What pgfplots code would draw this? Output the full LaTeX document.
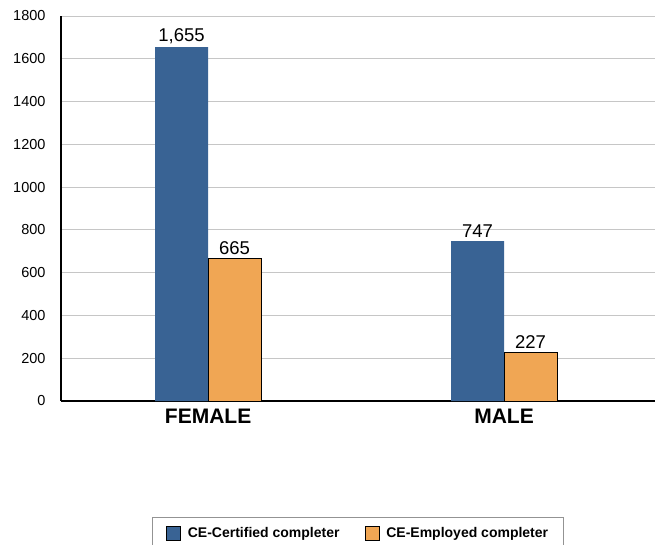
\documentclass[border=0pt]{standalone}
\usepackage{fontspec}
\setmainfont{Liberation Sans}
\usepackage{pgfplots}
\pgfplotsset{compat=1.18}
\usetikzlibrary{calc}
\definecolor{ceblue}{RGB}{57,99,148}
\definecolor{ceorange}{RGB}{240,166,84}

\begin{document}
\begin{tikzpicture}
\begin{axis}[
  name=ax,
  scale only axis,
  width=594bp, height=385bp,
  ybar=0pt, bar width=53bp,
  xmin=-0.497, xmax=1.51,
  ymin=0, ymax=1800,
  xtick={0,1}, xticklabels={FEMALE,MALE},
  ytick={0,200,...,1800},
  axis x line=bottom, axis y line=left,
  axis line style={-, black, line width=1.5bp},
  major tick length=0pt,
  ymajorgrids, grid style={draw=gray!45, line width=0.8bp},
  xticklabel style={font=\fontsize{21bp}{23bp}\selectfont\bfseries, yshift=-5bp},
  yticklabel style={font=\fontsize{14.5bp}{16bp}\selectfont, xshift=-12bp},
  /pgf/number format/assume math mode=true,
  /pgf/number format/1000 sep={},
  scaled y ticks=false,
  nodes near coords={\pgfmathprintnumber[1000 sep={,}]{\pgfplotspointmeta}},
  every node near coord/.append style={font=\fontsize{18.5bp}{20bp}\selectfont, black},
  legend style={at={(0.5,-0.301)}, anchor=north, legend columns=2,
    draw=gray!85, line width=1bp, inner xsep=13bp, inner ysep=8bp,
    font=\fontsize{14bp}{16bp}\selectfont\bfseries,
    /tikz/every odd column/.append style={column sep=5bp},
    /tikz/every even column/.append style={column sep=23bp}},
  legend image code/.code={\draw[#1] (0bp,-7bp) rectangle (14bp,7bp);},
]
\addplot[fill=ceblue, draw=none] coordinates {(0,1655) (1,747)};
\addplot[fill=ceorange, draw=black, line width=0.8bp] coordinates {(0,665) (1,227)};
\legend{CE-Certified completer, CE-Employed completer}
\end{axis}
\pgfresetboundingbox
\path ($(ax.south west)+(-61bp,-144bp)$) rectangle ($(ax.north east)+(3bp,16bp)$);
\end{tikzpicture}
\end{document}
